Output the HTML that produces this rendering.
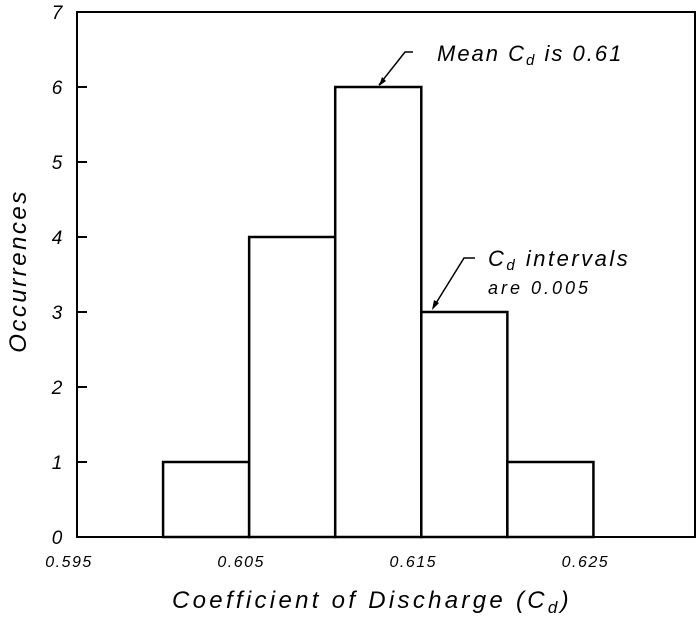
<!DOCTYPE html>
<html><head><meta charset="utf-8"><style>
body{margin:0;background:#fff}
svg{display:block}
text{font-family:"Liberation Sans",sans-serif;font-style:italic;fill:#000}
</style></head><body>
<svg width="699" height="624">
<g id="plot"></g>
<text x="26" y="271" transform="rotate(-90 26 271)" text-anchor="middle" font-size="24" letter-spacing="2.5">Occurrences</text>
<text x="372" y="608" text-anchor="middle" font-size="24" letter-spacing="3.3">Coefficient of Discharge (C<tspan font-size="17" dy="5">d</tspan><tspan dy="-5">)</tspan></text>
<polyline points="413,52 405,52 379,85" fill="none" stroke="#000" stroke-width="1.5"/>
<polygon points="379,86 382,77 386,81" fill="#000"/>
<text x="437" y="61" font-size="22" letter-spacing="2">Mean C<tspan font-size="15" dy="4">d</tspan><tspan dy="-4"> is 0.61</tspan></text>
<polyline points="475,258 464,258 433,308" fill="none" stroke="#000" stroke-width="1.5"/>
<polygon points="432,310 434,300 439,303" fill="#000"/>
<text x="488" y="266" font-size="22" letter-spacing="2.5">C<tspan font-size="15" dy="4">d</tspan><tspan dy="-4"> intervals</tspan></text>
<text x="488" y="294" font-size="18" letter-spacing="3">are 0.005</text>
</svg>
<script>
const binStarts=[0.600,0.605,0.610,0.615,0.620];
const counts=[1,4,6,3,1];
const binWidth=0.005;
const yTicks=[0,1,2,3,4,5,6,7];
const xTicks=[0.595,0.605,0.615,0.625];
const xTickLabels=["0.595","0.605","0.615","0.625"];
const X0=77,X1=695,Y0=537,Y1=12,xmin=0.595,xmax=0.6309,ymin=0,ymax=7;
const xs=v=>X0+(v-xmin)/(xmax-xmin)*(X1-X0);
const ys=v=>Y0-(v-ymin)/(ymax-ymin)*(Y0-Y1);
const NS="http://www.w3.org/2000/svg";
const g=document.getElementById('plot');
function mk(t,a){const e=document.createElementNS(NS,t);for(const k in a)e.setAttribute(k,a[k]);g.appendChild(e);return e;}
binStarts.forEach((b,i)=>{
 const r=mk('rect',{x:xs(b),y:ys(counts[i]),width:xs(b+binWidth)-xs(b),height:ys(0)-ys(counts[i]),fill:'#fff',stroke:'#000','stroke-width':2.5});
 
 
});
const ax=mk('rect',{x:X0,y:Y1,width:X1-X0,height:Y0-Y1,fill:'none',stroke:'#000','stroke-width':2});


yTicks.forEach(v=>{
 const l=mk('line',{x1:X0,x2:X0+10,y1:ys(v),y2:ys(v),stroke:'#000','stroke-width':2});
 
 
 const t=mk('text',{x:X0-20,y:ys(v)+7,'text-anchor':'middle','font-size':19});
 t.textContent=v;
 
 
});
xTicks.forEach((v,i)=>{
 const t=mk('text',{x:xs(v)-8,y:567,'text-anchor':'middle','font-size':16,'letter-spacing':1.5});
 t.textContent=xTickLabels[i];
 
 
});
</script>
</body></html>
